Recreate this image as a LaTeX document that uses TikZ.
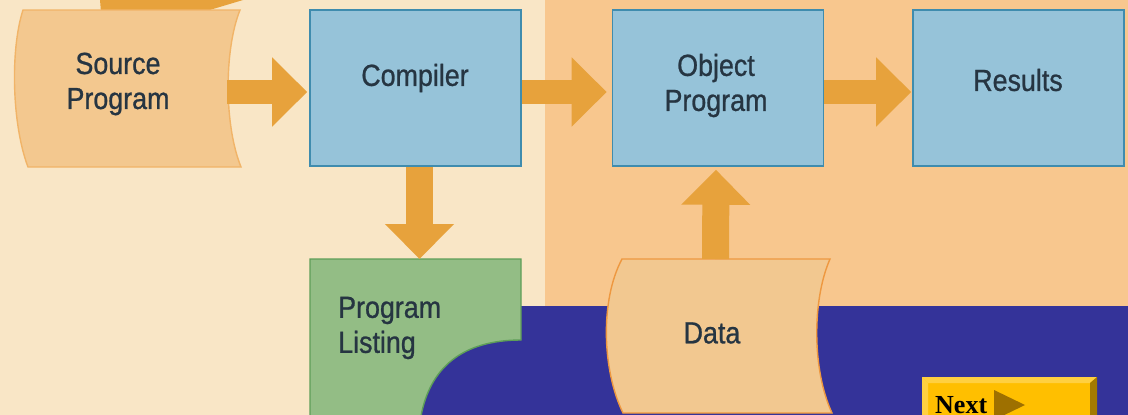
\documentclass[tikz,border=0pt]{standalone}
\usepackage{fontspec}
\setmainfont{Liberation Sans}
\newfontfamily\labfont{Liberation Sans}[FakeStretch=0.88,FakeBold=0.8]
\newfontfamily\btnfont{Liberation Serif}
\usetikzlibrary{arrows.meta,calc}

\definecolor{creambg}{HTML}{F9E6C6}
\definecolor{orangebg}{HTML}{F8C78E}
\definecolor{slideblue}{HTML}{343399}
\definecolor{boxfill}{HTML}{96C3D9}
\definecolor{boxline}{HTML}{3F8CAE}
\definecolor{listfill}{HTML}{93BD85}
\definecolor{listline}{HTML}{5E9E58}
\definecolor{srcfill}{HTML}{F3C88F}
\definecolor{srcline}{HTML}{F1B468}
\definecolor{datafill}{HTML}{F2C890}
\definecolor{dataline}{HTML}{EE9840}
\definecolor{arrowc}{HTML}{E7A23C}
\definecolor{labtext}{HTML}{263542}
\definecolor{btnfill}{HTML}{FFBF00}
\definecolor{btnlight}{HTML}{FFD040}
\definecolor{btndark}{HTML}{A37A00}
\definecolor{btntri}{HTML}{9E7000}

\tikzset{
  procbox/.style={draw=boxline, fill=boxfill, line width=1.6pt,
    minimum width=211pt, minimum height=156pt, inner sep=0pt},
  lab/.style={font=\labfont\fontsize{30.5}{35}\selectfont, text=labtext,
    align=center, inner sep=0pt},
  fatarrow/.style={draw=arrowc, line width=24pt,
    -{Triangle[length=35pt,width=67pt]}},
}

\begin{document}
\begin{tikzpicture}[x=1pt,y=-1pt]
\useasboundingbox (0,0) rectangle (1128,415);
\clip (0,0) rectangle (1128,415);

% backgrounds
\fill[creambg] (0,0) rectangle (545,415);
\fill[orangebg] (545,0) rectangle (1128,415);
\fill[slideblue] (310,306) rectangle (1128,415);

% incoming arrow piece at the top
\fill[arrowc] (100,0) -- (101,12) -- (203,12) -- (243,0) -- cycle;

% source program (curved sides)
\filldraw[fill=srcfill, draw=srcline, line width=1.4pt]
  (23,10) -- (240,10)
  .. controls (224,50) and (224,125) .. (241,167)
  -- (28,167)
  .. controls (12,125) and (10,50) .. (23,10) -- cycle;
\node[lab] (src) at (118,84) {Source\\Program};
\coordinate (srcR) at (227,92);

% process boxes
\node[procbox] (comp) at (415.5,88) {};
\node[procbox] (obj) at (718,88) {};
\node[procbox] (res) at (1018.5,88) {};
\node[lab] (compT) at (415,78) {Compiler};
\node[lab] (objT) at (716,85.5) {Object\\Program};
\node[lab] (resT) at (1018,80) {Results};

% program listing
\filldraw[fill=listfill, draw=listline, line width=1.4pt]
  (310,259) -- (521,259) -- (521,340)
  .. controls (462,340) and (430,368) .. (421,416)
  -- (310,416) -- cycle;
\node[lab, align=left, anchor=west] (list) at (338,328) {Program\\Listing};
\coordinate (listTop) at (419.5,259);

% data (curved sides)
\filldraw[fill=datafill, draw=dataline, line width=1.4pt]
  (622,259) -- (830,259)
  .. controls (812,300) and (812,370) .. (832,413)
  -- (623,413)
  .. controls (602,370) and (600,300) .. (622,259) -- cycle;
\node[lab] (data) at (712,333) {Data};
\coordinate (dataTop) at (715.5,259);

% connectors
\draw[fatarrow] (srcR) -- ($(comp.west)+(-2,4)$);
\draw[fatarrow] ($(comp.east)+(0,4)$) -- ($(obj.west)+(-5,4)$);
\draw[fatarrow] ($(obj.east)+(0,4)$) -- ($(res.west)+(-1,4)$);
\draw[fatarrow, line width=27pt] ($(comp.south)+(4,0)$) -- (listTop);
\draw[fatarrow, line width=27pt] (dataTop) -- ($(obj.south)+(-2,3)$);

% next button
\fill[btnfill] (922,377) rectangle (1097,416);
\fill[btnlight] (922,377) -- (1097,377) -- (1090,383) -- (928,383) -- cycle;
\fill[btnlight] (922,377) -- (928,383) -- (928,416) -- (922,416) -- cycle;
\fill[btndark] (1097,377) -- (1097,416) -- (1090,416) -- (1090,383) -- cycle;
\node[font=\btnfont\bfseries\fontsize{26}{30}\selectfont, anchor=base west,
  inner sep=0pt] (next) at (935,413) {Next};
\fill[btntri] (994,390) -- (1025,405) -- (994,420) -- cycle;
\end{tikzpicture}
\end{document}
